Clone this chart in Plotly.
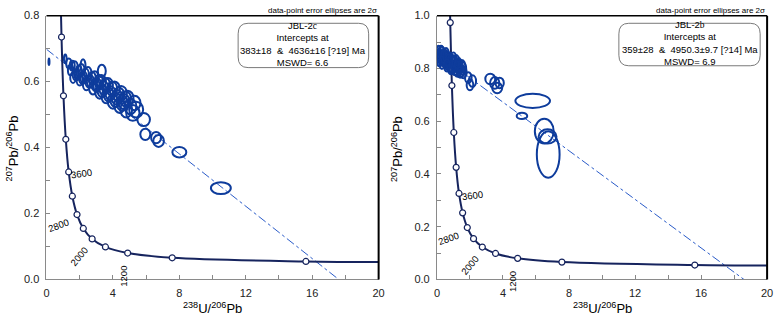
import plotly.graph_objects as go

# ---------------- data ----------------
# Concordia reference points (age in Ma, 238U/206Pb, 207Pb/206Pb)
conc_age = [5250, 5200, 4800, 4400, 4000, 3600, 3200, 2800, 2400, 2000, 1600, 1200, 800, 400, 315]
conc_x = [0.795, 0.806, 0.905, 1.022, 1.163, 1.337, 1.556, 1.838, 2.217, 2.749, 3.550, 4.888, 7.570, 15.62, 20.0]
conc_y = [1.009, 0.9735, 0.735, 0.557, 0.425, 0.326, 0.2525, 0.1968, 0.1548, 0.1230, 0.0987, 0.0801, 0.0658, 0.0547, 0.0527]
marker_ages = [5200, 4800, 4400, 4000, 3600, 3200, 2800, 2400, 2000, 1600, 1200, 800, 400]
label_ages = [3600, 2800, 2000, 1200]

# Discordia lines (endpoints)
discL_x = [0.0, 17.6]
discL_y = [0.698, 0.0]
discR_x = [0.0, 18.6]
discR_y = [0.856, 0.0]

# Sample JBL-2c error ellipses: centre x, centre y, half-width x, half-height y
L_cx = [1.35, 1.70, 2.10, 2.50, 2.90, 3.30, 3.70, 4.10, 4.50, 4.90, 5.30,
        1.45, 1.85, 2.25, 2.65, 3.05, 3.45, 3.85, 4.25, 4.65, 5.05,
        1.60, 2.00, 2.40, 2.80, 3.20, 3.60, 4.00, 4.40, 4.80, 5.20,
        1.55, 1.95, 2.35, 2.75, 3.15, 3.55, 3.95, 4.35, 4.75,
        1.75, 2.15, 2.55, 2.95, 3.35, 3.75, 4.15, 4.55, 5.40,
        0.15, 1.13, 2.20, 3.33, 5.85, 5.95, 6.60, 6.75, 8.00, 10.5]
L_cy = [0.655, 0.645, 0.635, 0.625, 0.612, 0.600, 0.590, 0.578, 0.565, 0.550, 0.535,
        0.635, 0.622, 0.612, 0.600, 0.590, 0.580, 0.565, 0.552, 0.540, 0.525,
        0.612, 0.605, 0.592, 0.580, 0.568, 0.555, 0.540, 0.528, 0.515, 0.505,
        0.648, 0.632, 0.622, 0.610, 0.600, 0.590, 0.578, 0.560, 0.548,
        0.620, 0.610, 0.600, 0.590, 0.572, 0.560, 0.545, 0.535, 0.515,
        0.660, 0.669, 0.648, 0.632, 0.485, 0.440, 0.430, 0.420, 0.386, 0.277]
L_rx = [0.16, 0.18, 0.20, 0.22, 0.25, 0.28, 0.30, 0.32, 0.34, 0.34, 0.36,
        0.16, 0.18, 0.20, 0.22, 0.25, 0.28, 0.30, 0.33, 0.35, 0.36,
        0.17, 0.19, 0.21, 0.24, 0.27, 0.29, 0.31, 0.33, 0.36, 0.40,
        0.15, 0.17, 0.20, 0.22, 0.26, 0.28, 0.31, 0.33, 0.34,
        0.17, 0.19, 0.21, 0.24, 0.27, 0.29, 0.31, 0.33, 0.42,
        0.03, 0.08, 0.15, 0.24, 0.38, 0.30, 0.30, 0.32, 0.42, 0.60]
L_ry = [0.015, 0.017, 0.018, 0.019, 0.019, 0.020, 0.021, 0.022, 0.022, 0.022, 0.022,
        0.016, 0.017, 0.018, 0.019, 0.020, 0.021, 0.022, 0.023, 0.023, 0.024,
        0.016, 0.017, 0.018, 0.019, 0.020, 0.021, 0.022, 0.023, 0.024, 0.024,
        0.015, 0.017, 0.018, 0.019, 0.020, 0.021, 0.022, 0.022, 0.023,
        0.016, 0.017, 0.018, 0.019, 0.020, 0.021, 0.022, 0.023, 0.024,
        0.010, 0.013, 0.020, 0.019, 0.020, 0.017, 0.017, 0.018, 0.016, 0.018]

# Sample JBL-2b error ellipses
R_cx = [0.10, 0.20, 0.30, 0.35, 0.45, 0.50, 0.60, 0.65, 0.75, 0.80, 0.90, 0.95,
        1.05, 1.10, 1.20, 1.25, 1.35, 1.45, 1.55, 1.60, 0.15, 0.25, 0.55, 1.00,
        0.08, 0.40, 0.70, 0.85, 1.15, 1.30, 1.50, 0.30, 0.60, 1.40,
        1.90, 2.15, 2.00, 3.23, 3.50, 3.80, 3.65, 5.80, 5.15, 6.50, 6.70, 6.74]
R_cy = [0.862, 0.845, 0.858, 0.835, 0.850, 0.828, 0.842, 0.820, 0.835, 0.812, 0.828, 0.805,
        0.820, 0.800, 0.812, 0.792, 0.805, 0.790, 0.800, 0.785, 0.830, 0.868, 0.855, 0.838,
        0.848, 0.842, 0.828, 0.800, 0.826, 0.815, 0.808, 0.822, 0.812, 0.785,
        0.765, 0.752, 0.737, 0.760, 0.745, 0.745, 0.726, 0.677, 0.620, 0.562, 0.542, 0.474]
R_rx = [0.14, 0.16, 0.17, 0.17, 0.18, 0.18, 0.19, 0.19, 0.20, 0.20, 0.20, 0.21,
        0.22, 0.22, 0.22, 0.22, 0.23, 0.22, 0.22, 0.20, 0.14, 0.14, 0.17, 0.17,
        0.10, 0.16, 0.20, 0.20, 0.22, 0.22, 0.22, 0.15, 0.18, 0.20,
        0.20, 0.22, 0.20, 0.30, 0.28, 0.25, 0.30, 1.05, 0.32, 0.57, 0.54, 0.69]
R_ry = [0.024, 0.026, 0.024, 0.026, 0.024, 0.026, 0.024, 0.026, 0.025, 0.026, 0.024, 0.026,
        0.025, 0.026, 0.024, 0.024, 0.025, 0.024, 0.024, 0.022, 0.022, 0.018, 0.022, 0.022,
        0.026, 0.026, 0.025, 0.022, 0.025, 0.024, 0.024, 0.024, 0.024, 0.020,
        0.020, 0.022, 0.020, 0.020, 0.022, 0.020, 0.020, 0.027, 0.012, 0.047, 0.027, 0.088]

# Text
note_text = "data-point error ellipses are 2σ"
serif = "<span style=\"font-family:'Liberation Serif', 'Times New Roman', serif\">{}</span>"
boxL_text = ("JBL-2" + serif.format("c") + "<br>Intercepts at<br>"
             "383±18\u00a0 &\u00a0 4636±16 [?19] Ma<br>MSWD= 6.6")
boxR_text = ("JBL-2" + serif.format("b") + "<br>Intercepts at<br>"
             "359±28\u00a0 &\u00a0 4950.3±9.7 [?14] Ma<br>MSWD= 6.9")
x_title = "<sup>238</sup>U/<sup>206</sup>Pb"
y_title = "<sup>207</sup>Pb/<sup>206</sup>Pb"
xL_range, yL_range = [0, 20], [0, 0.8]
xR_range, yR_range = [0, 20], [0, 1.0]

# ---------------- styling ----------------
FONT = "Arial, 'Liberation Sans', sans-serif"
ELL_COLOR = "#0e3c9c"
CONC_COLOR = "#16245e"
DISC_COLOR = "#2a5bc8"

fig = go.Figure()
marker_x = [conc_x[conc_age.index(a)] for a in marker_ages]
marker_y = [conc_y[conc_age.index(a)] for a in marker_ages]

for xa, ya, dx, dy in [("x", "y", discL_x, discL_y), ("x2", "y2", discR_x, discR_y)]:
    fig.add_trace(go.Scatter(x=dx, y=dy, mode="lines", xaxis=xa, yaxis=ya,
                             line=dict(color=DISC_COLOR, width=1, dash="dashdot"), showlegend=False,
                             hoverinfo="skip"))
    fig.add_trace(go.Scatter(x=conc_x, y=conc_y, mode="lines", xaxis=xa, yaxis=ya,
                             line=dict(color=CONC_COLOR, width=2, shape="spline"), showlegend=False))
    fig.add_trace(go.Scatter(x=marker_x, y=marker_y, mode="markers", xaxis=xa, yaxis=ya,
                             marker=dict(color="white", size=6, line=dict(color=CONC_COLOR, width=1.2)),
                             showlegend=False))

shapes = []
for xr, yr, cxs, cys, rxs, rys in [("x", "y", L_cx, L_cy, L_rx, L_ry), ("x2", "y2", R_cx, R_cy, R_rx, R_ry)]:
    for cx, cy, rx, ry in zip(cxs, cys, rxs, rys):
        shapes.append(dict(type="circle", xref=xr, yref=yr, x0=cx - rx, x1=cx + rx, y0=cy - ry, y1=cy + ry,
                           line=dict(color=ELL_COLOR, width=2), layer="above"))


def rounded(x0, y0, x1, y1, rx, ry):
    return (f"M {x0+rx},{y0} L {x1-rx},{y0} Q {x1},{y0} {x1},{y0+ry} L {x1},{y1-ry} "
            f"Q {x1},{y1} {x1-rx},{y1} L {x0+rx},{y1} Q {x0},{y1} {x0},{y1-ry} L {x0},{y0+ry} "
            f"Q {x0},{y0} {x0+rx},{y0} Z")


# frame lines (top / right black) and rounded info boxes
boxes = [("x domain", "y domain", (0.577, 0.803, 0.970, 0.971), boxL_text),
         ("x2 domain", "y2 domain", (0.551, 0.810, 0.979, 0.971), boxR_text)]
annotations = []
for xr, yr, box, txt in boxes:
    shapes.append(dict(type="line", xref=xr, yref=yr, x0=0, x1=1, y0=1, y1=1,
                       line=dict(color="black", width=1.5), layer="above"))
    shapes.append(dict(type="line", xref=xr, yref=yr, x0=1, x1=1, y0=0, y1=1,
                       line=dict(color="black", width=2), layer="above"))
    shapes.append(dict(type="path", xref=xr, yref=yr, path=rounded(*box, 0.03, 0.04),
                       line=dict(color="#7a7a7a", width=1), fillcolor="white", layer="above"))
    annotations.append(dict(x=(box[0] + box[2]) / 2, y=(box[1] + box[3]) / 2 + 0.005, xref=xr, yref=yr,
                            text=txt, showarrow=False, xanchor="center", yanchor="middle", align="center",
                            font=dict(family=FONT, size=9.5, color="black")))
    annotations.append(dict(x=1, y=1, xref=xr, yref=yr, text=note_text, showarrow=False,
                            xanchor="right", yanchor="bottom", yshift=-1,
                            font=dict(family=FONT, size=8, color="black")))

# age labels on concordia: (xshift, yshift, angle)
label_style = {3600: (13, -2, -8), 2800: (-19, -11, -20), 2000: (-13, -18, -50), 1200: (-5, -23, -90)}
for xa, ya in [("x", "y"), ("x2", "y2")]:
    for a in label_ages:
        xs, ys, ang = label_style[a]
        annotations.append(dict(x=conc_x[conc_age.index(a)], y=conc_y[conc_age.index(a)], xref=xa, yref=ya,
                                text=str(a), showarrow=False, xshift=xs, yshift=ys, textangle=ang,
                                font=dict(family=FONT, size=9.5, color="black")))

# axis titles
for xpx in [212, 606]:
    annotations.append(dict(x=xpx / 782, y=1 - 314 / 324, xref="paper", yref="paper", text=x_title,
                            showarrow=False, xanchor="center", yanchor="middle",
                            font=dict(family=FONT, size=13, color="black")))
for xpx in [9, 398]:
    annotations.append(dict(x=xpx / 782, y=1 - 148 / 324, xref="paper", yref="paper", text=y_title,
                            showarrow=False, xanchor="center", yanchor="middle", textangle=-90,
                            font=dict(family=FONT, size=13, color="black")))

W, H = 782, 324
yd = [1 - 284 / H, 1 - 10 / H]
common_x = dict(dtick=4, tick0=0, ticks="inside", ticklen=4, tickcolor="#888", showline=True,
                linecolor="#8a8a8a", linewidth=1, showgrid=False, zeroline=False, ticklabelstandoff=3,
                tickfont=dict(family=FONT, size=11, color="#222"),
                minor=dict(dtick=2, ticks="inside", ticklen=4, tickcolor="#888"))
common_y = dict(ticks="inside", ticklen=4, tickcolor="#888", showline=True,
                linecolor="#8a8a8a", linewidth=1, showgrid=False, zeroline=False, tickformat=".1f",
                ticklabelstandoff=4, tickfont=dict(family=FONT, size=11, color="#222"),
                minor=dict(dtick=0.1, ticks="inside", ticklen=4, tickcolor="#888"))

fig.update_layout(
    width=W, height=H, margin=dict(l=0, r=0, t=0, b=0),
    paper_bgcolor="white", plot_bgcolor="white", showlegend=False,
    xaxis=dict(domain=[44 / W, 380 / W], range=xL_range, anchor="y", **common_x),
    yaxis=dict(domain=yd, range=yL_range, anchor="x", dtick=0.2, **common_y),
    xaxis2=dict(domain=[439 / W, 773 / W], range=xR_range, anchor="y2", **common_x),
    yaxis2=dict(domain=yd, range=yR_range, anchor="x2", dtick=0.2, **common_y),
    shapes=shapes, annotations=annotations,
)

fig.write_html("out.html", config={"displayModeBar": False},
               post_script="document.body.style.margin='0px';")
